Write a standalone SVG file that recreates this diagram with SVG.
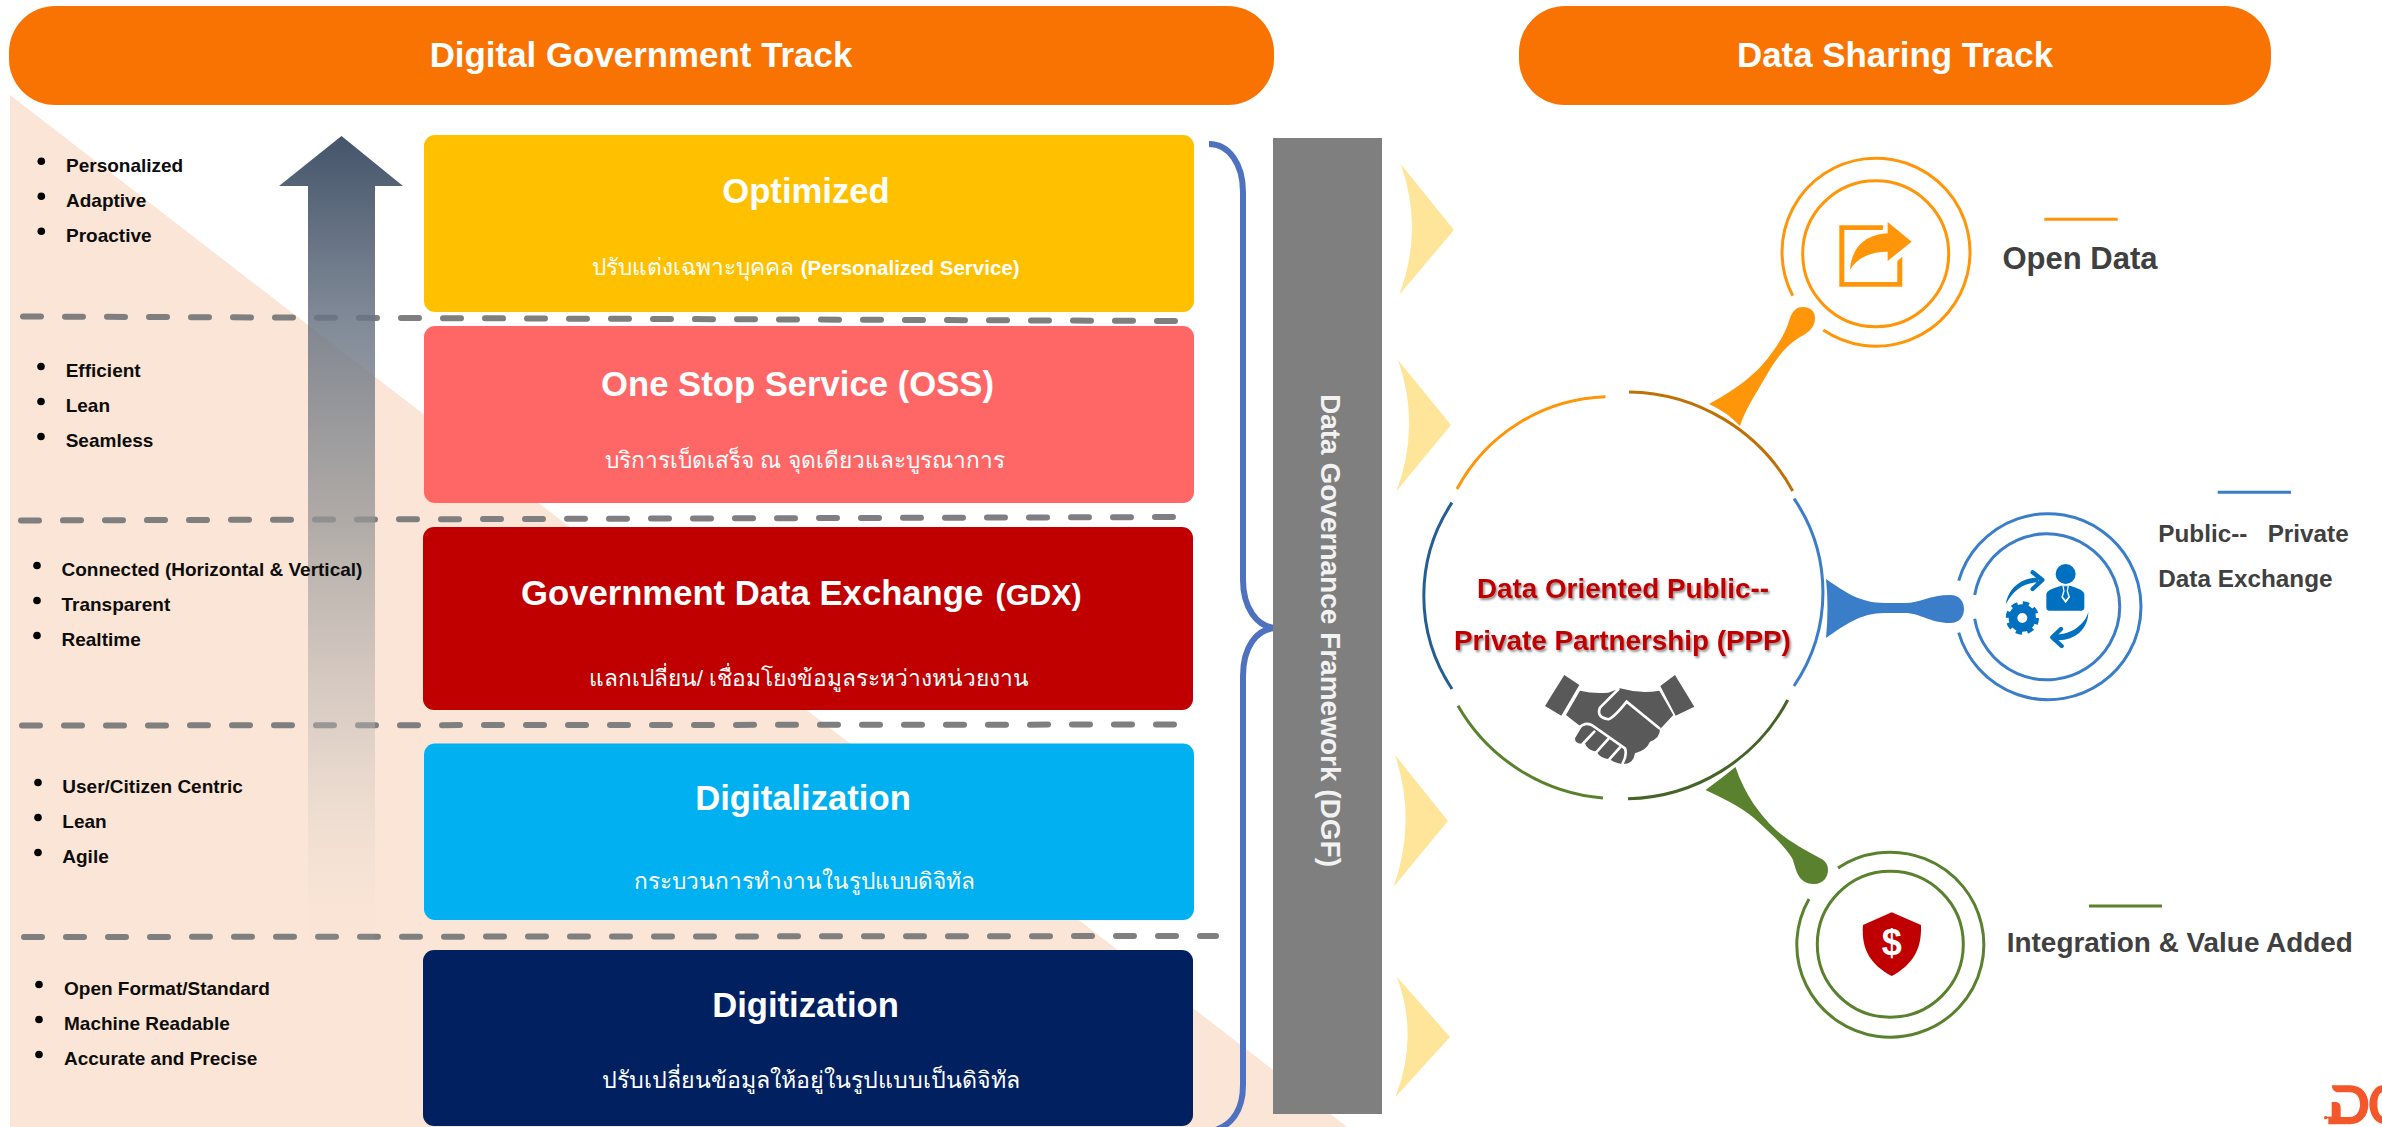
<svg xmlns="http://www.w3.org/2000/svg" width="2382" height="1127" viewBox="0 0 2382 1127">
<style>
text{font-family:"Liberation Sans","Noto Sans",sans-serif;font-weight:700}
.hd{font-size:34.9px;fill:#fff;text-anchor:middle}
.ti{font-size:34.67px;fill:#fff;text-anchor:middle}
.th{font-size:22.7px;fill:#fff;text-anchor:middle;font-weight:400}
.en{font-size:20.5px;font-weight:700}
.bl{font-size:19px;fill:#0d0d0d}
.lb{fill:#404040}
.dash{fill:none;stroke:#7f7f7f;stroke-width:6;stroke-linecap:round;stroke-dasharray:18 24}
.chev{fill:#ffe599}
.ppp{font-size:27.8px;fill:#c00000;filter:url(#sh)}
.ar{fill:none;stroke-width:3}
.or{stroke:#ff9609}.bu{stroke:#3a7dc9}.gr{stroke:#5a812d}
</style>
<defs>
<linearGradient id="up" x1="0" y1="0" x2="0" y2="1">
<stop offset="0" stop-color="#44546a"/>
<stop offset=".22" stop-color="#6a7585" stop-opacity=".85"/>
<stop offset=".46" stop-color="#969696" stop-opacity=".74"/>
<stop offset=".7" stop-color="#b9b5b3" stop-opacity=".46"/>
<stop offset=".92" stop-color="#e0d8d0" stop-opacity=".08"/>
<stop offset="1" stop-color="#e0d8d0" stop-opacity="0"/>
</linearGradient>
<filter id="sh" x="-5%" y="-20%" width="110%" height="150%"><feDropShadow dx="1.5" dy="2" stdDeviation="1.2" flood-color="#000" flood-opacity=".45"/></filter>
</defs>
<rect width="2382" height="1127" fill="#fff"/>
<polygon id="bg-triangle" points="10,95 1347,1127 10,1127" fill="#fbe5d6"/>
<g id="connectors">
<line class="dash" x1="23" y1="316.5" x2="1179" y2="321"/>
<line class="dash" x1="21" y1="520.5" x2="1177" y2="517"/>
<line class="dash" x1="22" y1="725.5" x2="1177" y2="724.5"/>
<line class="dash" x1="24" y1="937" x2="1216" y2="936"/>
<path id="brace" d="M1209 144C1229 144 1243 164 1243 192L1243 580C1243 606 1256 628 1277 628C1256 628 1243 648 1243 676L1243 1085C1243 1110 1232 1127 1209 1132" fill="none" stroke="#4f72c0" stroke-width="6"/>
<path class="chev" d="M1400.7 164L1454 230L1399 295Q1424 230 1400.7 164Z"/>
<path class="chev" d="M1398 360L1451 425L1396.500 491Q1421 425 1398 360Z"/>
<path class="chev" d="M1395 755L1448 821L1393.500 887Q1417 821 1395 755Z"/>
<path class="chev" d="M1397 977L1450 1037L1395.500 1097Q1419 1037 1397 977Z"/>
<path fill="#ff9609" d="M1709 404C1735 390 1755 375 1768 358C1780 342 1786 332 1790 318C1793 310 1797 307 1803 307C1811 307 1815 312 1815 318C1815 328 1808 333 1800 337C1785 346 1775 360 1765 378C1755 395 1745 410 1740 426Q1727 412 1709 404Z"/>
<path fill="#3a7dc9" d="M1826 579C1845 592 1860 603 1885 603L1905 603C1920 603 1930 595 1950 595C1960 595 1964 602 1964 609C1964 616 1960 623 1950 623C1930 623 1920 613 1905 613L1885 613C1860 613 1845 625 1826 638Q1829 608 1826 579Z"/>
<path fill="#5a812d" d="M1705.500 790C1722 798 1740 806 1754 818C1768 831 1785 846 1792 858C1796 866 1796 884 1814 884C1823 884 1828 877 1828 870C1828 863 1824 860 1818 857C1805 850 1790 842 1776 830C1760 815 1745 795 1735.500 767Q1722 778 1705.500 790Z"/>
</g>
<polygon id="growth-arrow" points="341.5,136 403,186 375,186 375,975 308,975 308,186 279,186" fill="url(#up)"/>
<g id="header-digital"><rect x="9" y="6" width="1265" height="99" rx="46" fill="#f97303"/><text class="hd" x="641" y="67">Digital Government Track</text></g>
<g id="header-sharing"><rect x="1519" y="6" width="752" height="99" rx="46" fill="#f97303"/><text class="hd" x="1895" y="67">Data Sharing Track</text></g>
<g id="traits-optimized"><circle cx="41.3" cy="161.3" r="3.8"/><circle cx="41.3" cy="196.3" r="3.8"/><circle cx="41.3" cy="231.3" r="3.8"/><text class="bl" x="66" y="171.7">Personalized</text><text class="bl" x="66" y="206.7">Adaptive</text><text class="bl" x="66" y="241.7">Proactive</text></g>
<g id="traits-oss"><circle cx="41" cy="366.5" r="3.8"/><circle cx="41" cy="401.5" r="3.8"/><circle cx="41" cy="436.5" r="3.8"/><text class="bl" x="65.7" y="377">Efficient</text><text class="bl" x="65.7" y="412">Lean</text><text class="bl" x="65.7" y="447">Seamless</text></g>
<g id="traits-gdx"><circle cx="37" cy="565.5" r="3.8"/><circle cx="37" cy="600.5" r="3.8"/><circle cx="37" cy="635.5" r="3.8"/><text class="bl" x="61.5" y="576">Connected (Horizontal &amp; Vertical)</text><text class="bl" x="61.5" y="611">Transparent</text><text class="bl" x="61.5" y="646">Realtime</text></g>
<g id="traits-digitalization"><circle cx="38" cy="782.5" r="3.8"/><circle cx="38" cy="817.5" r="3.8"/><circle cx="38" cy="852.5" r="3.8"/><text class="bl" x="62.3" y="793">User/Citizen Centric</text><text class="bl" x="62.3" y="828">Lean</text><text class="bl" x="62.3" y="863">Agile</text></g>
<g id="traits-digitization"><circle cx="39" cy="984.5" r="3.8"/><circle cx="39" cy="1019.5" r="3.8"/><circle cx="39" cy="1054.5" r="3.8"/><text class="bl" x="64" y="995">Open Format/Standard</text><text class="bl" x="64" y="1030">Machine Readable</text><text class="bl" x="64" y="1065">Accurate and Precise</text></g>
<g id="card-optimized"><rect x="424" y="135" width="770" height="177" rx="11" fill="#ffc000"/><text class="ti" x="806" y="203">Optimized</text><text class="th" x="806" y="275">ปรับแต่งเฉพาะบุคคล <tspan class="en">(Personalized Service)</tspan></text></g>
<g id="card-oss"><rect x="424" y="326" width="770" height="177" rx="11" fill="#ff6666"/><text class="ti" x="797.5" y="396">One Stop Service (OSS)</text><text class="th" x="805" y="468">บริการเบ็ดเสร็จ ณ จุดเดียวและบูรณาการ</text></g>
<g id="card-gdx"><rect x="423" y="527" width="770" height="183" rx="11" fill="#c00000"/><text class="ti" x="521" y="605" style="text-anchor:start">Government Data Exchange <tspan x="995.6" font-size="30.4">(GDX)</tspan></text><text class="th" x="809" y="686">แลกเปลี่ยน/ เชื่อมโยงข้อมูลระหว่างหน่วยงาน</text></g>
<g id="card-digitalization"><rect x="424" y="743.5" width="770" height="176.5" rx="11" fill="#00b0f0"/><text class="ti" x="803" y="810">Digitalization</text><text class="th" x="804" y="889">กระบวนการทำงานในรูปแบบดิจิทัล</text></g>
<g id="card-digitization"><rect x="423" y="950" width="770" height="176" rx="11" fill="#002060"/><text class="ti" x="805.5" y="1017">Digitization</text><text class="th" x="811" y="1087.5" style="font-size:23.2px">ปรับเปลี่ยนข้อมูลให้อยู่ในรูปแบบเป็นดิจิทัล</text></g>
<g id="dgf-bar"><rect x="1273" y="138" width="109" height="976" fill="#7f7f7f"/><text transform="translate(1321 394) rotate(90)" font-size="28" fill="#f2f2f2">Data Governance Framework (DGF)</text></g>
<g id="ppp-hub">
<path class="ar or" d="M1457 489A175 175 0 0 1 1605.500 396.700"/>
<path class="ar" stroke="#bf7106" d="M1629 392A190 190 0 0 1 1792.700 491"/>
<path class="ar bu" d="M1794 498.700A166 166 0 0 1 1794 686"/>
<path class="ar" stroke="#466427" d="M1787.700 700A185 185 0 0 1 1628 798.700"/>
<path class="ar gr" d="M1603 798A185 185 0 0 1 1458 705.700"/>
<path class="ar" stroke="#265d93" d="M1452 689A168 168 0 0 1 1452 502.700"/>
<text class="ppp" x="1477" y="598">Data Oriented Public--</text>
<text class="ppp" x="1454" y="650">Private Partnership (PPP)</text>
<g id="handshake" transform="translate(1400 440) scale(.3333)">
<g fill="#595959"><polygon points="435,798 493,705 538,735 484,827"/><polygon points="781,738 825,705 883,800 827,827"/>
<path d="M540 752Q580 762 625 758L660 745Q720 762 778 752L820 825L780 868Q780 895 750 905Q740 930 705 940Q700 975 665 972Q640 968 630 958Q600 955 590 935Q560 930 555 910Q525 915 525 895L545 862L498 825Z"/></g>
<g fill="none" stroke="#fff" stroke-width="8" stroke-linecap="round"><path d="M655 748L600 803Q588 832 625 838Q640 835 680 785L778 865"/><path d="M535 865Q560 840 585 862L675 925Q682 945 668 970"/><path d="M583 875L548 912M625 897L588 938M660 922L628 958"/></g>
</g>
</g>
<g id="node-open-data">
<path class="ar or" d="M1823.300 330A94 94 0 1 0 1792.700 295.700"/>
<circle class="ar or" cx="1875.700" cy="253.700" r="73"/>
<g transform="translate(1740 150) scale(.3333)" fill="#ff9609"><path d="M430 226H298V410H487V320L472 333V396H313V240H428Z"/><path d="M515 275L443 216V250C385 252 335 285 330 360C350 325 390 305 443 305V333Z"/></g>
<line x1="2044.300" y1="219.300" x2="2117.700" y2="219.300" class="ar or"/>
<text class="lb" x="2002.500" y="269.300" font-size="31">Open Data</text>
</g>
<g id="node-exchange">
<path class="ar bu" d="M1958.700 580.700A93 93 0 1 1 1958.700 632.700"/>
<path class="ar bu" d="M1974.700 595A73 73 0 1 1 1974.700 618.700"/>
<g transform="translate(1900 460) scale(.3333)" fill="#0070c0">
<circle cx="497" cy="342" r="30"/>
<path d="M447 452Q439 452 439 442V402Q441 388 484 377H510Q550 388 553 402V442Q553 452 545 452Z"/>
<path fill="#fff" d="M487 377H507L504 392L510 412L497 430L484 412L490 392Z"/>
<path d="M491 379H503L500 393L505 410L497 420L489 410L494 393Z"/>
<path d="M318 432C325 385 365 352 415 353V368C375 365 340 390 318 432Z"/>
<path d="M565 455C555 495 510 525 465 523V540C520 545 565 510 565 455Z"/>
<path d="M398 337L427 360L398 387M483 507L457 532L485 558" fill="none" stroke="#0070c0" stroke-width="13" stroke-linecap="round" stroke-linejoin="round"/>
<circle cx="367" cy="474" r="28" fill="none" stroke="#0070c0" stroke-width="26"/>
<circle cx="367" cy="474" r="43" fill="none" stroke="#0070c0" stroke-width="14" stroke-dasharray="18.500 15.270"/>
</g>
<line x1="2217.700" y1="492.300" x2="2291" y2="492.300" class="ar bu"/>
<text class="lb" x="2158.300" y="542" font-size="24.3" style="white-space:pre">Public--   Private</text>
<text class="lb" x="2158.300" y="586.700" font-size="24.3">Data Exchange</text>
</g>
<g id="node-integration">
<path class="ar gr" d="M1838 868A93.500 92.500 0 1 1 1809 899"/>
<circle class="ar gr" cx="1890.300" cy="944.200" r="73"/>
<path fill="#c00000" d="M1891.700 912.300L1921 925C1922 950 1912 965 1891.700 976C1871 965 1861 950 1863 925Z"/>
<text x="1891.700" y="955" font-size="36" fill="#fff" text-anchor="middle">$</text>
<line x1="2089" y1="906" x2="2162" y2="906" class="ar gr"/>
<text class="lb" x="2006.800" y="951.700" font-size="27.9">Integration &amp; Value Added</text>
</g>
<g id="logo" transform="translate(2300 1067) scale(.3333)" fill="#f4572a">
<path fill-rule="evenodd" d="M95 55H150C185 55 205 80 205 112C205 145 185 172 150 172H85V150H95V105H108Q122 105 122 125V150H150C170 150 180 132 180 112C180 92 170 76 150 76H110Q97 72 95 55Z"/>
<path d="M246 55C225 55 208 85 208 112C208 140 225 168 246 170V148C236 145 232 125 232 112C232 90 238 78 246 76Z"/>
<rect x="74" y="149" width="40" height="5"/><circle cx="77" cy="152" r="5"/>
</g>
</svg>
